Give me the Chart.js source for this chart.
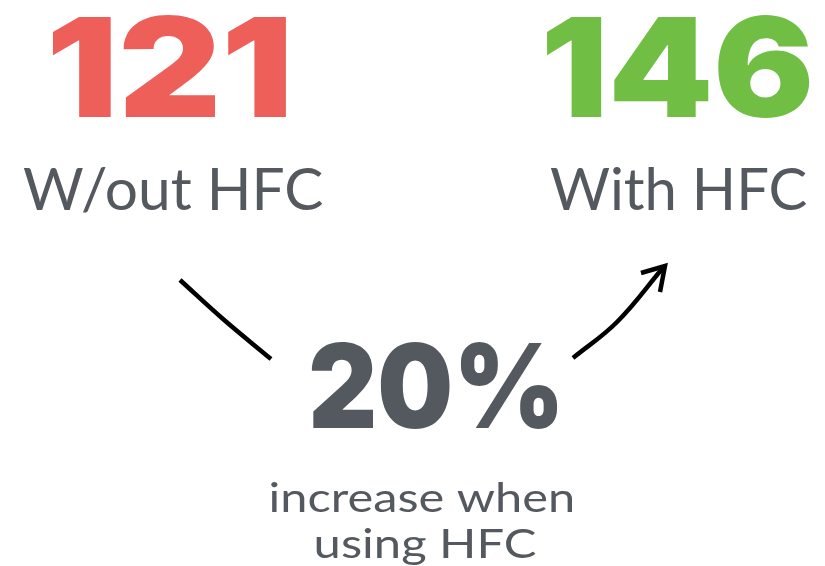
<!DOCTYPE html>
<html>
<head>
<meta charset="utf-8">
<script src="https://cdn.jsdelivr.net/npm/chart.js@4/dist/chart.umd.min.js"></script>
<style>
  html, body { margin: 0; padding: 0; background: #ffffff; }
  #wrap { width: 825px; height: 566px; }
</style>
</head>
<body>
<div id="wrap"><canvas id="c" width="825" height="566"></canvas></div>
<script>
// ---- data ----
const categories = ['W/out HFC', 'With HFC'];
const counts = [121, 146];
const changeText = '20%';
const captionLines = ['increase when', 'using HFC'];

// ---- layout (positions in the hidden 825 x 566 value space) ----
const layout = {
  numberBoxes: [ {x0: 53, x1: 286, top: 15, base: 117}, {x0: 547, x1: 810, top: 15, base: 117} ],
  labelBoxes:  [ {x0: 23, x1: 323, top: 167, base: 210}, {x0: 550, x1: 807, top: 167, base: 210} ],
  changeBox:   {x0: 311, x1: 557, top: 342, base: 428},
  captionBoxes: [ {x0: 271, x1: 572, top: 482, base: 512, ref: 'h'}, {x0: 316, x1: 536, top: 528, base: 558, ref: 'H'} ],
  leftArrow:  [ {x: 180, y: 280}, {x: 223, y: 319}, {x: 271, y: 359} ],
  rightArrow: [ {x: 573, y: 358}, {x: 617, y: 322}, {x: 662, y: 269} ],
  arrowHead:  [ {x: 641, y: 273}, {x: 665, y: 266}, {x: 660, y: 292} ]
};
const styles = {
  numberColors: ['#EE5F5A', '#70BF44'],
  grey: '#54595F',
  heavyFamily: 'Inter, Lato, "DejaVu Sans", sans-serif',
  lightFamily: 'Lato, "Open Sans", sans-serif'
};

function drawFit(ctx, xs, ys, text, weight, family, color, box, ref) {
  const x0 = xs.getPixelForValue(box.x0), x1 = xs.getPixelForValue(box.x1);
  const yTop = ys.getPixelForValue(box.top), yBase = ys.getPixelForValue(box.base);
  ctx.save();
  ctx.font = weight + ' 100px ' + family;
  const asc = ctx.measureText(ref || text).actualBoundingBoxAscent;
  const size = 100 * (yBase - yTop) / asc;
  ctx.font = weight + ' ' + size + 'px ' + family;
  const mt = ctx.measureText(text);
  const w = mt.actualBoundingBoxLeft + mt.actualBoundingBoxRight;
  const sx = (x1 - x0) / w;
  ctx.translate(x0, yBase);
  ctx.scale(sx, 1);
  ctx.textAlign = 'left';
  ctx.textBaseline = 'alphabetic';
  ctx.fillStyle = color;
  ctx.fillText(text, mt.actualBoundingBoxLeft, 0);
  ctx.restore();
}

const textPlugin = {
  id: 'infoText',
  afterDatasetsDraw(chart) {
    const ctx = chart.ctx, xs = chart.scales.x, ys = chart.scales.y;
    counts.forEach((v, i) => {
      drawFit(ctx, xs, ys, String(v), '900', styles.heavyFamily, styles.numberColors[i], layout.numberBoxes[i]);
      drawFit(ctx, xs, ys, categories[i], '400', styles.lightFamily, styles.grey, layout.labelBoxes[i], 'H');
    });
    drawFit(ctx, xs, ys, changeText, '900', styles.heavyFamily, styles.grey, layout.changeBox, '20');
    captionLines.forEach((t, i) => {
      const b = layout.captionBoxes[i];
      drawFit(ctx, xs, ys, t, '400', styles.lightFamily, styles.grey, b, b.ref);
    });
  }
};

function lineSet(points, tension) {
  return {
    data: points, showLine: true, tension: tension,
    borderColor: '#000000', borderWidth: 4.5, borderCapStyle: 'butt', borderJoinStyle: 'miter',
    pointRadius: 0, fill: false
  };
}

function build() {
  new Chart(document.getElementById('c'), {
    type: 'scatter',
    data: { datasets: [
      lineSet(layout.leftArrow, 0.4),
      lineSet(layout.rightArrow, 0.4),
      lineSet(layout.arrowHead, 0)
    ] },
    options: {
      responsive: false, animation: false, devicePixelRatio: 1,
      layout: { padding: 0 },
      scales: {
        x: { type: 'linear', min: 0, max: 825, display: false },
        y: { type: 'linear', min: 0, max: 566, reverse: true, display: false }
      },
      plugins: { legend: { display: false }, tooltip: { enabled: false } }
    },
    plugins: [textPlugin]
  });
}

Promise.all([
  document.fonts.load('900 100px Inter'),
  document.fonts.load('400 100px Lato')
]).then(build, build);
</script>
</body>
</html>
